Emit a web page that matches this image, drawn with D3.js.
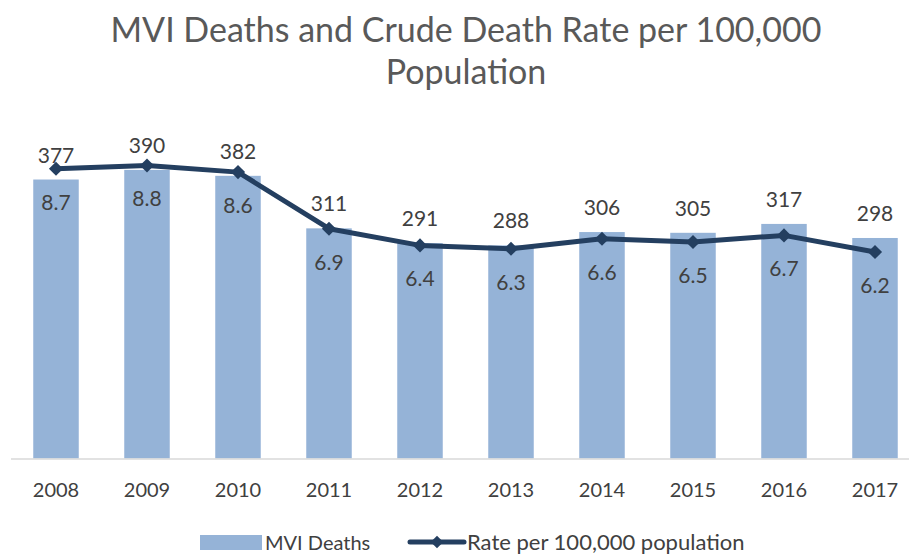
<!DOCTYPE html>
<html>
<head>
<meta charset="utf-8">
<script src="https://cdn.jsdelivr.net/npm/d3@7"></script>
<style>
  html, body { margin: 0; padding: 0; background: #fff; }
  svg { display: block; font-family: Lato, "Open Sans", sans-serif; }
</style>
</head>
<body>
<svg id="chart" width="909" height="555"></svg>
<script>
// Motor vehicle injury deaths and crude rate, 2008–2017
const years = ["2008", "2009", "2010", "2011", "2012", "2013", "2014", "2015", "2016", "2017"];
const deaths = [377, 390, 382, 311, 291, 288, 306, 305, 317, 298];
const rates = [8.7, 8.8, 8.6, 6.9, 6.4, 6.3, 6.6, 6.5, 6.7, 6.2];
const deathsDomain = [0, 450];
const rateDomain = [0, 10];
const titleLines = ["MVI Deaths and Crude Death Rate per 100,000", "Population"];
const legendLabels = ["MVI Deaths", "Rate per 100,000 population"];

const barColor = "#95b3d7";
const lineColor = "#243f60";
const textColor = "#404040";
const titleColor = "#595959";

const svg = d3.select("#chart");
const plot = { left: 10.5, right: 920.5, top: 125.5, bottom: 458.5 };

const x = d3.scaleBand().domain(years).range([plot.left, plot.right]).padding(0.5).paddingOuter(0.25);
const yBar = d3.scaleLinear().domain(deathsDomain).range([plot.bottom, plot.top]);
const yRate = d3.scaleLinear().domain(rateDomain).range([plot.bottom, plot.top]);
const cx = (i) => x(years[i]) + x.bandwidth() / 2;

// Title
svg.append("g").selectAll("text").data(titleLines).join("text")
  .attr("x", 466)
  .attr("y", (d, i) => 42 + i * 42)
  .attr("text-anchor", "middle")
  .attr("fill", titleColor)
  .style("font-size", "34px")
  .text(d => d);

// Bars
svg.append("g").selectAll("rect").data(deaths).join("rect")
  .attr("x", (d, i) => x(years[i]))
  .attr("width", x.bandwidth())
  .attr("y", d => yBar(d))
  .attr("height", d => yBar(0) - yBar(d))
  .attr("fill", barColor);

// Category axis
const xAxis = svg.append("g")
  .attr("transform", `translate(0,${plot.bottom})`)
  .call(d3.axisBottom(x).tickSize(0).tickPadding(24));
xAxis.select(".domain").attr("stroke", "#d9d9d9").attr("stroke-width", 1.5);
xAxis.selectAll("text").attr("fill", textColor).style("font-size", "20px")
  .style("font-family", "Lato, 'Open Sans', sans-serif");

// Rate line with diamond markers
const line = d3.line()
  .x((d, i) => cx(i))
  .y(d => yRate(d));
svg.append("path").datum(rates)
  .attr("d", line)
  .attr("fill", "none")
  .attr("stroke", lineColor)
  .attr("stroke-width", 5)
  .attr("stroke-linejoin", "round");

svg.append("g").selectAll("path").data(rates).join("path")
  .attr("transform", (d, i) => `translate(${cx(i)},${yRate(d)}) rotate(45)`)
  .attr("d", d3.symbol().type(d3.symbolSquare).size(100))
  .attr("fill", lineColor);

// Bar value labels (above bars)
svg.append("g").selectAll("text").data(deaths).join("text")
  .attr("x", (d, i) => cx(i))
  .attr("y", d => yBar(d) - 17)
  .attr("text-anchor", "middle")
  .attr("fill", textColor)
  .style("font-size", "21px")
  .text(d => d);

// Rate value labels (below markers)
svg.append("g").selectAll("text").data(rates).join("text")
  .attr("x", (d, i) => cx(i))
  .attr("y", d => yRate(d) + 41)
  .attr("text-anchor", "middle")
  .attr("fill", textColor)
  .style("font-size", "21px")
  .text(d => d3.format(".1f")(d));

// Legend
const legend = svg.append("g");
legend.append("rect")
  .attr("x", 200).attr("y", 535).attr("width", 62).attr("height", 15)
  .attr("fill", barColor);
legend.append("text")
  .attr("x", 265).attr("y", 550)
  .attr("fill", textColor).style("font-size", "20px")
  .text(legendLabels[0]);
legend.append("line")
  .attr("x1", 410).attr("x2", 464).attr("y1", 542).attr("y2", 542)
  .attr("stroke", lineColor).attr("stroke-width", 5).attr("stroke-linecap", "round");
legend.append("path")
  .attr("transform", "translate(437,542) rotate(45)")
  .attr("d", d3.symbol().type(d3.symbolSquare).size(80))
  .attr("fill", lineColor);
legend.append("text")
  .attr("x", 467).attr("y", 550)
  .attr("fill", textColor).style("font-size", "22px")
  .text(legendLabels[1]);
</script>
</body>
</html>
